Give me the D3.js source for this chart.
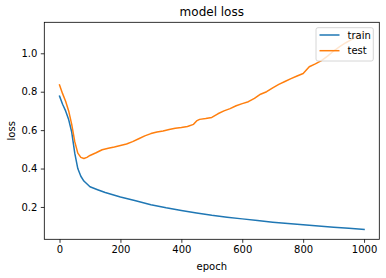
<!DOCTYPE html>
<html>
<head>
<meta charset="utf-8">
<script src="https://cdn.jsdelivr.net/npm/d3@7"></script>
<style>
  body { margin: 0; background: #fff; }
  svg text { font-family: "DejaVu Sans", sans-serif; fill: #000; }
</style>
</head>
<body>
<svg id="chart"></svg>
<script>
// values
var trainEpochs = [0, 10, 20, 30, 40, 50, 60, 70, 80, 100, 125, 150, 200, 250, 300, 350, 400, 450, 500, 550, 600, 650, 700, 750, 800, 850, 900, 950, 1000];
var trainLoss = [0.777, 0.735, 0.70, 0.655, 0.59, 0.48, 0.40, 0.36, 0.335, 0.305, 0.29, 0.275, 0.252, 0.232, 0.212, 0.196, 0.182, 0.169, 0.157, 0.147, 0.138, 0.129, 0.121, 0.114, 0.108, 0.101, 0.095, 0.089, 0.083];

var testEpochs = [0, 10, 20, 30, 40, 50, 60, 70, 80, 90, 100, 120, 140, 160, 180, 200, 220, 240, 260, 280, 300, 320, 340, 360, 380, 400, 420, 440, 450, 460, 480, 500, 520, 540, 560, 580, 600, 620, 640, 660, 680, 700, 720, 740, 760, 780, 800, 820, 840, 860, 880, 900, 920, 940, 960, 980, 1000];
var testLoss = [0.835, 0.79, 0.75, 0.70, 0.63, 0.54, 0.48, 0.458, 0.452, 0.458, 0.468, 0.482, 0.498, 0.506, 0.512, 0.520, 0.528, 0.540, 0.555, 0.570, 0.582, 0.590, 0.596, 0.603, 0.610, 0.614, 0.619, 0.630, 0.648, 0.656, 0.660, 0.666, 0.685, 0.700, 0.712, 0.727, 0.738, 0.748, 0.765, 0.787, 0.800, 0.820, 0.838, 0.853, 0.868, 0.882, 0.895, 0.930, 0.945, 0.962, 0.985, 1.012, 1.035, 1.055, 1.072, 1.090, 1.110];

var xTicks = [0, 200, 400, 600, 800, 1000];
var yTicks = [0.2, 0.4, 0.6, 0.8, 1.0];
var seriesNames = ['train', 'test'];
var seriesColors = ['#1f77b4', '#ff7f0e'];

var width = 386, height = 278;
var plot = {left: 44.3, right: 379.3, top: 22.3, bottom: 239.3};

var svg = d3.select('#chart').attr('width', width).attr('height', height);

// matplotlib style 5% margins around the data
var xExt = d3.extent(trainEpochs.concat(testEpochs));
var yExt = d3.extent(trainLoss.concat(testLoss));
var xPad = (xExt[1] - xExt[0]) * 0.05, yPad = (yExt[1] - yExt[0]) * 0.05;

var x = d3.scaleLinear().domain([xExt[0] - xPad, xExt[1] + xPad]).range([plot.left, plot.right]);
var y = d3.scaleLinear().domain([yExt[0] - yPad, yExt[1] + yPad]).range([plot.bottom, plot.top]);

var series = [
  {name: seriesNames[0], color: seriesColors[0], values: trainEpochs.map((e, i) => [e, trainLoss[i]])},
  {name: seriesNames[1], color: seriesColors[1], values: testEpochs.map((e, i) => [e, testLoss[i]])}
];

var line = d3.line().x(d => x(d[0])).y(d => y(d[1]));

svg.append('defs').append('clipPath').attr('id', 'clip')
  .append('rect')
  .attr('x', plot.left).attr('y', plot.top)
  .attr('width', plot.right - plot.left).attr('height', plot.bottom - plot.top);

svg.append('g').attr('clip-path', 'url(#clip)')
  .selectAll('path')
  .data(series)
  .enter().append('path')
    .attr('d', d => line(d.values))
    .attr('fill', 'none')
    .attr('stroke', d => d.color)
    .attr('stroke-width', 1.5)
    .attr('stroke-linejoin', 'round')
    .attr('stroke-linecap', 'square');

// axes
var xAxis = d3.axisBottom(x).tickValues(xTicks).tickSize(3.5).tickPadding(3.5).tickFormat(d3.format('d'));
var yAxis = d3.axisLeft(y).tickValues(yTicks).tickSize(3.5).tickPadding(3.5).tickFormat(d3.format('.1f'));

var gx = svg.append('g').attr('transform', 'translate(0,' + plot.bottom + ')').call(xAxis);
var gy = svg.append('g').attr('transform', 'translate(' + plot.left + ',0)').call(yAxis);
[gx, gy].forEach(g => {
  g.select('.domain').remove();
  g.selectAll('.tick line').attr('stroke', '#000').attr('stroke-width', 0.8);
  g.selectAll('.tick text').style('font-size', '10px').attr('fill', '#000');
});

// frame
svg.append('rect')
  .attr('x', plot.left).attr('y', plot.top)
  .attr('width', plot.right - plot.left).attr('height', plot.bottom - plot.top)
  .attr('fill', 'none').attr('stroke', '#000').attr('stroke-width', 0.8);

// labels
svg.append('text')
  .attr('x', (plot.left + plot.right) / 2).attr('y', 16)
  .attr('text-anchor', 'middle').style('font-size', '12px')
  .text('model loss');

svg.append('text')
  .attr('x', (plot.left + plot.right) / 2).attr('y', 270)
  .attr('text-anchor', 'middle').style('font-size', '10px')
  .text('epoch');

svg.append('text')
  .attr('transform', 'translate(15,' + (plot.top + plot.bottom) / 2 + ') rotate(-90)')
  .attr('text-anchor', 'middle').style('font-size', '10px')
  .text('loss');

// legend
var legend = svg.append('g').attr('transform', 'translate(316,27.7)');
legend.append('rect')
  .attr('width', 57.3).attr('height', 33.3).attr('rx', 2)
  .attr('fill', '#fff').attr('fill-opacity', 0.8)
  .attr('stroke', '#ccc').attr('stroke-width', 0.8);

var items = legend.selectAll('.item')
  .data(series)
  .enter().append('g')
    .attr('class', 'item')
    .attr('transform', (d, i) => 'translate(0,' + (7.3 + i * 15.7) + ')');
items.append('line')
  .attr('x1', 3.5).attr('x2', 23.5)
  .attr('stroke', d => d.color).attr('stroke-width', 1.5);
items.append('text')
  .attr('x', 31.5).attr('y', 3.6)
  .style('font-size', '10px')
  .text(d => d.name);
</script>
</body>
</html>
